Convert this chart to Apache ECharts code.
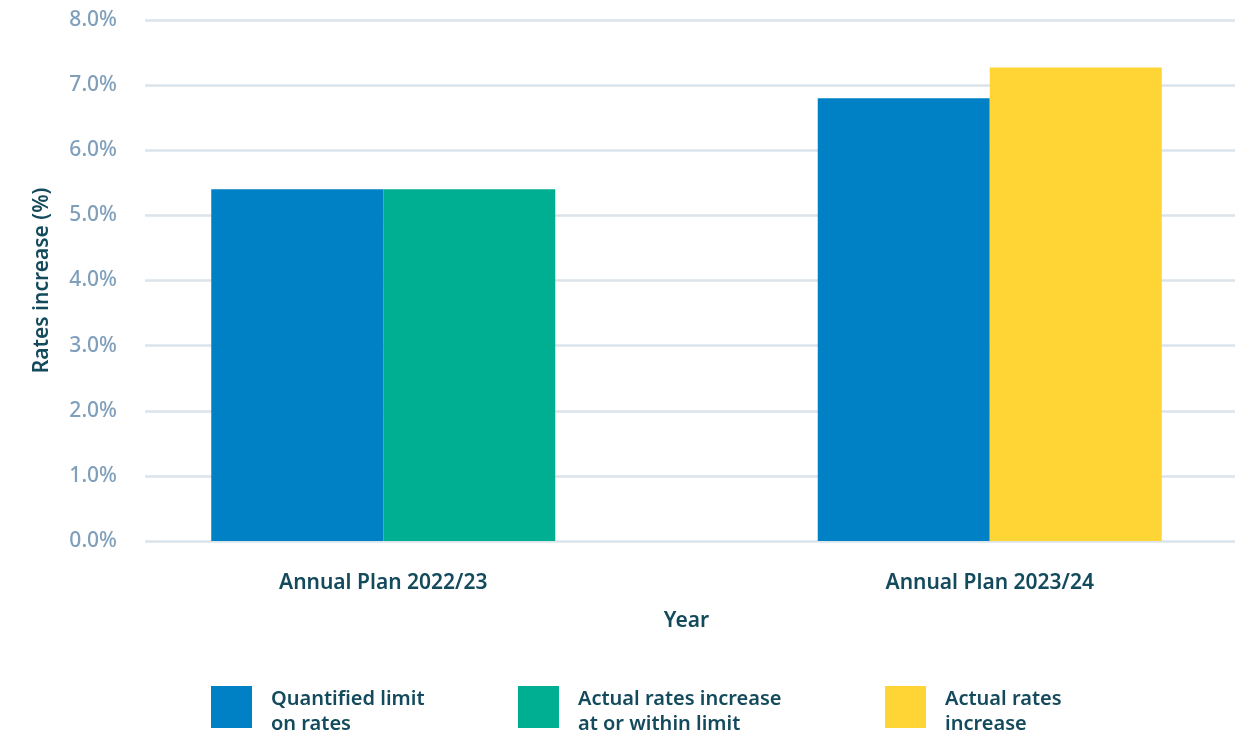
<!DOCTYPE html>
<html>
<head>
<meta charset="utf-8">
<script src="https://cdn.jsdelivr.net/npm/echarts@6/dist/echarts.min.js"></script>
<style>
  html, body { margin: 0; padding: 0; background: #fff; }
  #chart { width: 1243px; height: 736px; }
</style>
</head>
<body>
<div id="chart"></div>
<script>
// Data
const categories = ['Annual Plan 2022/23', 'Annual Plan 2023/24']
const quantifiedLimit = [5.4, 6.8]
// second bar of each group: 2022/23 at/within limit, 2023/24 actual increase
const actualRates = [5.4, 7.27]
const actualKind = ['within', 'over']
const yTicks = [0, 1, 2, 3, 4, 5, 6, 7, 8]

const seriesNames = ['Quantified limit\non rates', 'Actual rates increase\nat or within limit', 'Actual rates\nincrease']

// Colors
const COLOR_BLUE = '#0081c6'
const COLOR_GREEN = '#00ae92'
const COLOR_YELLOW = '#fed535'
const COLOR_DARK = '#134a5c'
const COLOR_TICK = '#7f9fbb'
const COLOR_GRID = '#dbe4eb'

const FONT = '"Noto Sans", sans-serif'

const chart = echarts.init(document.getElementById('chart'))

// legend text sits a little lower than the square, so push it down with a short spacer line
const legendBase = {
  top: 672,
  padding: 0,
  orient: 'horizontal',
  itemWidth: 41,
  itemHeight: 42,
  icon: 'rect',
  selectedMode: false,
  formatter: (name) => '{s|}\n' + name.split('\n').map((l) => `{t|${l}}`).join('\n'),
  textStyle: {
    color: COLOR_DARK,
    fontFamily: FONT,
    fontSize: 20,
    fontWeight: 600,
    padding: [0, 0, 0, 14],
    rich: {
      s: { height: 10, lineHeight: 10 },
      t: {
        color: COLOR_DARK,
        fontFamily: FONT,
        fontSize: 20,
        fontWeight: 600,
        lineHeight: 25,
      },
    },
  },
}

const darkText = {
  color: COLOR_DARK,
  fontFamily: FONT,
  fontSize: 21,
  fontWeight: 600,
}

chart.setOption({
  animation: false,
  grid: [
    // grid 0: value axis + gridlines
    { left: 145, right: 8, top: 20, bottom: 195 },
    // grid 1: bars, centered under the category labels (wider than the page)
    { left: 80, width: 1213, top: 20, bottom: 195, outerBoundsMode: 'none' },
  ],
  legend: [
    { ...legendBase, left: 211, data: [seriesNames[0]] },
    { ...legendBase, left: 518, data: [seriesNames[1]] },
    { ...legendBase, left: 885, data: [seriesNames[2]] },
  ],
  xAxis: [
    {
      gridIndex: 0,
      type: 'category',
      data: categories,
      show: false,
    },
    {
      gridIndex: 1,
      type: 'category',
      data: categories,
      axisLine: { show: false },
      axisTick: { show: false },
      axisLabel: { ...darkText, margin: 32 },
      name: 'Year',
      nameLocation: 'middle',
      nameGap: 70,
      nameTextStyle: darkText,
    },
  ],
  yAxis: [
    {
      gridIndex: 0,
      type: 'value',
      min: yTicks[0],
      max: yTicks[yTicks.length - 1],
      interval: 1,
      axisLine: { show: false },
      axisTick: { show: false },
      axisLabel: {
        margin: 28,
        color: COLOR_TICK,
        fontFamily: FONT,
        fontSize: 21,
        fontWeight: 500,
        formatter: (v) => v.toFixed(1) + '%',
      },
      splitLine: { show: true, lineStyle: { color: COLOR_GRID, width: 2.5 } },
      name: 'Rates increase (%)',
      nameLocation: 'middle',
      nameRotate: 90,
      nameGap: 92,
      nameTextStyle: darkText,
    },
    {
      gridIndex: 1,
      type: 'value',
      min: 0,
      max: 8,
      show: false,
    },
  ],
  series: [
    {
      name: seriesNames[0],
      type: 'bar',
      xAxisIndex: 1,
      yAxisIndex: 1,
      barWidth: 172,
      barGap: '0%',
      itemStyle: { color: COLOR_BLUE },
      data: quantifiedLimit,
    },
    {
      name: seriesNames[1],
      type: 'bar',
      xAxisIndex: 1,
      yAxisIndex: 1,
      barWidth: 172,
      barGap: '0%',
      itemStyle: { color: COLOR_GREEN },
      data: actualRates.map((v, i) => ({
        value: v,
        itemStyle: { color: actualKind[i] === 'within' ? COLOR_GREEN : COLOR_YELLOW },
      })),
    },
    {
      // legend entry only; sits on the gridline axes so it takes no bar slot
      name: seriesNames[2],
      type: 'bar',
      xAxisIndex: 0,
      yAxisIndex: 0,
      itemStyle: { color: COLOR_YELLOW },
      data: [],
    },
  ],
})
</script>
</body>
</html>
